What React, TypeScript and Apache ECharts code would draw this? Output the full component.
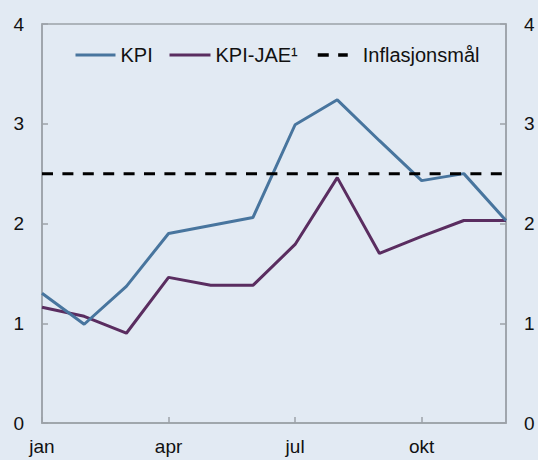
import React, { useEffect, useRef } from "react";
import * as echarts from "echarts";

const months = ["jan", "feb", "mar", "apr", "mai", "jun", "jul", "aug", "sep", "okt", "nov", "des"];
const kpi = [1.3, 0.99, 1.37, 1.9, 1.98, 2.06, 2.99, 3.24, 2.83, 2.43, 2.5, 2.03];
const kpiJae = [1.16, 1.07, 0.9, 1.46, 1.38, 1.38, 1.79, 2.46, 1.7, 1.87, 2.03, 2.03];
const target = [2.5, 2.5, 2.5, 2.5, 2.5, 2.5, 2.5, 2.5, 2.5, 2.5, 2.5, 2.5];
const yTicks = [0, 1, 2, 3, 4];

const FONT = "'Liberation Sans', Arial, Helvetica, sans-serif";
const BG = "#e2eaf3";
const AXIS = "#9ca2a8";
const BLUE = "#48759e";
const PURPLE = "#5a2d60";

export default function App() {
  const ref = useRef<HTMLDivElement>(null);
  useEffect(() => {
    if (!ref.current) return;
    const chart = echarts.init(ref.current, undefined, { renderer: "svg" });
    const yAxisCommon = {
      type: "value" as const,
      min: yTicks[0],
      max: yTicks[yTicks.length - 1],
      interval: 1,
      splitLine: { show: false },
      axisLine: { show: true, lineStyle: { color: AXIS, width: 1.5 } },
      axisTick: { show: true, inside: true, length: 6, lineStyle: { color: AXIS, width: 1.5 } },
      axisLabel: { color: "#111", fontSize: 19, fontFamily: FONT, margin: 18 },
    };
    const legendCommon = {
      top: 45,
      itemHeight: 14,
      itemStyle: { opacity: 0 },
      lineStyle: { width: 3 },
      textStyle: { color: "#111", fontSize: 20, fontFamily: FONT },
      padding: 0,
    };
    chart.setOption({
      animation: false,
      backgroundColor: BG,
      textStyle: { fontFamily: FONT },
      grid: {
        left: 42,
        right: 32,
        top: 24,
        bottom: 37,
        show: true,
        borderColor: AXIS,
        borderWidth: 1.5,
        backgroundColor: "transparent",
      },
      legend: [
        { ...legendCommon, left: 74, itemWidth: 40, data: ["KPI"] },
        { ...legendCommon, left: 168, itemWidth: 41, data: ["KPI-JAE¹"] },
        {
          ...legendCommon,
          left: 316,
          itemWidth: 30,
          data: ["Inflasjonsmål"],
          lineStyle: { width: 3.5 },
          textStyle: { ...legendCommon.textStyle, padding: [0, 0, 0, 10] },
        },
      ],
      xAxis: {
        type: "category",
        data: months,
        boundaryGap: false,
        axisLine: { show: true, lineStyle: { color: AXIS, width: 1.5 } },
        axisTick: { show: true, inside: true, length: 6, interval: 2, lineStyle: { color: AXIS, width: 1.5 } },
        axisLabel: { interval: 2, color: "#111", fontSize: 19, fontFamily: FONT, margin: 14 },
        splitLine: { show: false },
      },
      yAxis: [
        { ...yAxisCommon, position: "left" },
        { ...yAxisCommon, position: "right" },
      ],
      series: [
        {
          name: "KPI",
          type: "line",
          data: kpi,
          symbol: "none",
          lineStyle: { color: BLUE, width: 3 },
          itemStyle: { color: BLUE },
          z: 3,
        },
        {
          name: "KPI-JAE¹",
          type: "line",
          data: kpiJae,
          symbol: "none",
          lineStyle: { color: PURPLE, width: 3 },
          itemStyle: { color: PURPLE },
          z: 2,
        },
        {
          name: "Inflasjonsmål",
          type: "line",
          data: target,
          symbol: "none",
          lineStyle: { color: "#000", width: 3, type: [11, 9.4] },
          itemStyle: { color: "#000" },
          z: 4,
        },
      ],
    });
    return () => chart.dispose();
  }, []);
  return <div ref={ref} style={{ width: 538, height: 460, position: "absolute", left: 0, top: 0 }} />;
}
